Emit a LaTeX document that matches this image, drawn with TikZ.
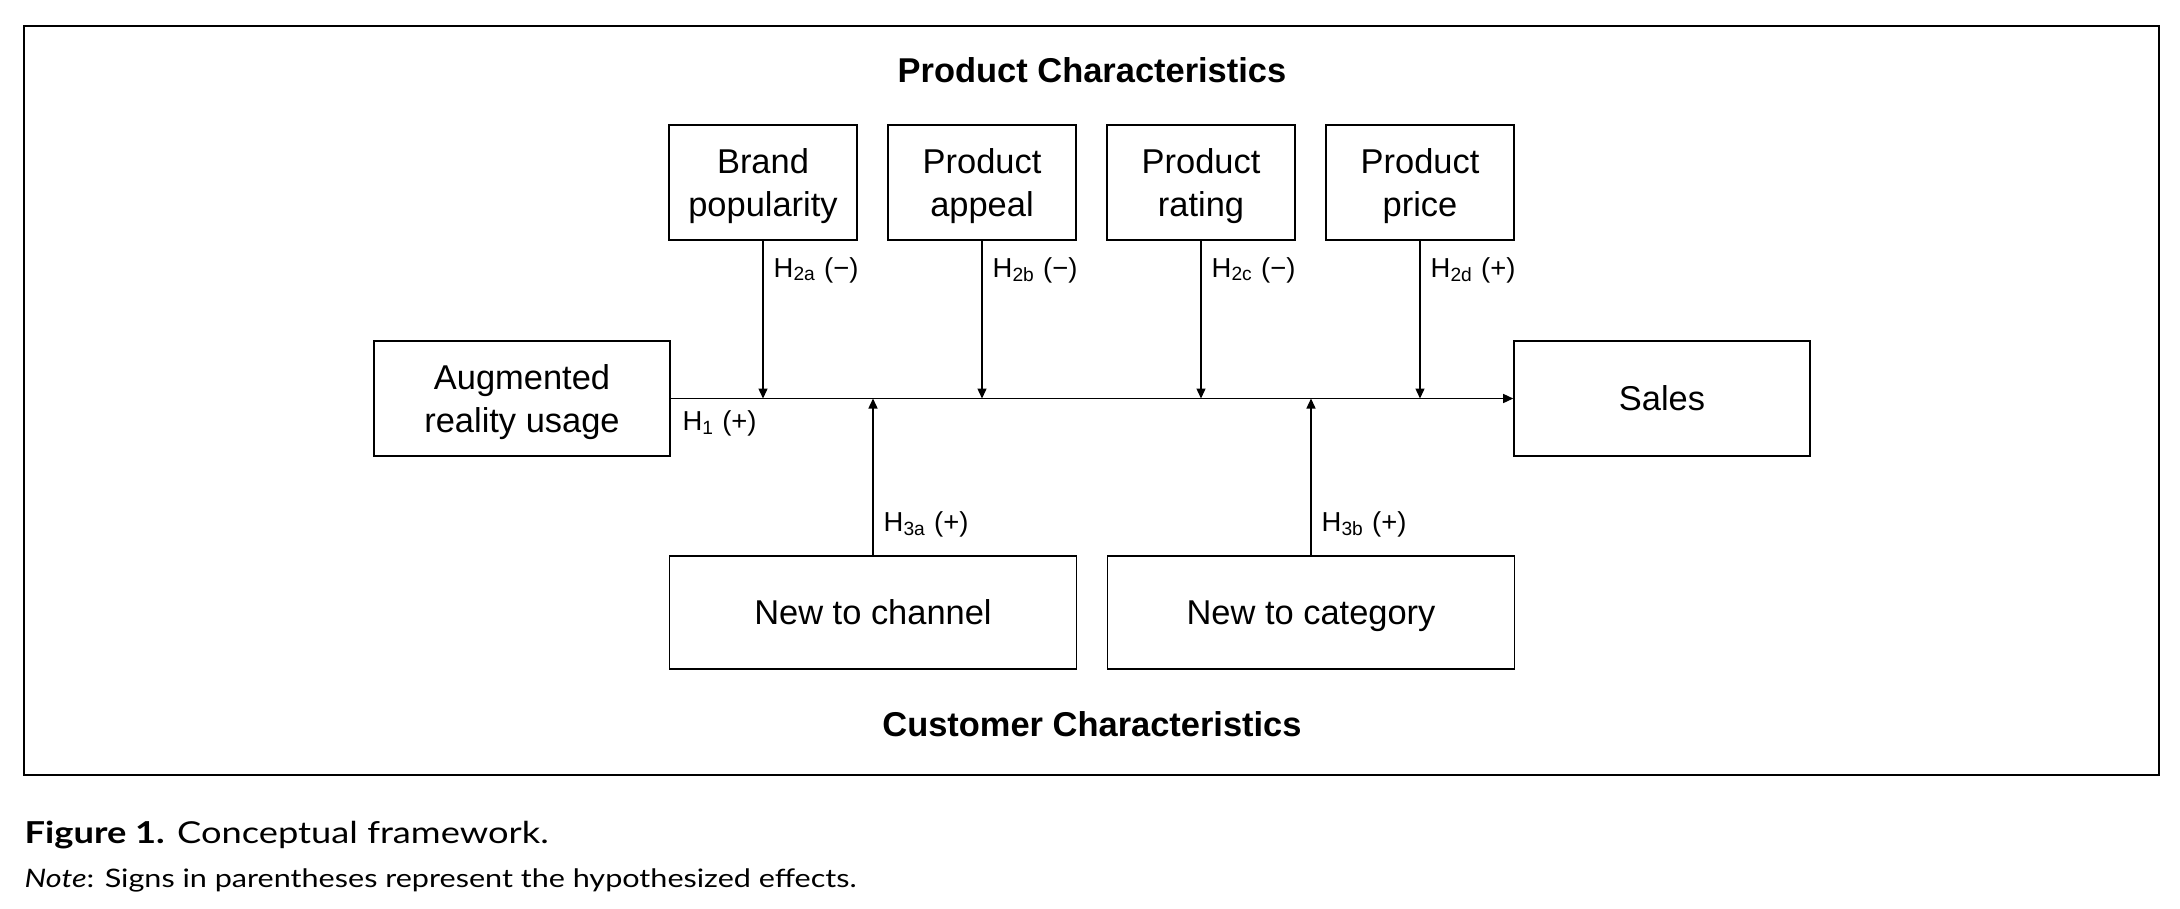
\documentclass[tikz,border=0pt]{standalone}
\usepackage{fontspec}
\setmainfont{Liberation Sans}
\newfontfamily\capfont[FakeStretch=1.2]{Lato}
\usetikzlibrary{arrows.meta}
\usetikzlibrary{calc}
\tikzset{
  every node/.style = {font = \fontsize{9.8pt}{12pt}\selectfont}
}
\tikzset{
    >={Triangle[length=1mm, width=0.9mm]}
}
\tikzset{
  box/.style = {draw, line width=0.45pt, align=center, inner sep=0pt, text depth=0pt, minimum height=11.5mm},
  smallbox/.style = {box, minimum width=18.8mm},
  widebox/.style = {box, minimum width=29.6mm},
  longbox/.style = {box, minimum width=40.7mm, minimum height=11.3mm},
  hyp/.style = {font=\fontsize{7.8pt}{9pt}\selectfont, anchor=base west, inner sep=0pt, xshift=1mm},
  heading/.style = {font=\fontsize{9.8pt}{12pt}\selectfont\bfseries, anchor=base, inner sep=0pt},
  caption/.style = {anchor=base west, inner sep=0pt}
}

\begin{document}
\begin{tikzpicture}[x=0.1mm, y=-0.1mm, line width=0.4pt]
\useasboundingbox (0,0) rectangle (2180,908);

% The frame
\draw[line width=0.55pt] (24,26) rectangle (2159,775);

% Headings
\node[heading] (prodhead) at (1092,82) {Product Characteristics};
\node[heading] (custhead) at (1092,736) {Customer Characteristics};

% Product characteristics
\node[smallbox] (brand) at (763,182.5) {Brand\\popularity};
\node[smallbox] (appeal) at (982,182.5) {Product\\appeal};
\node[smallbox] (rating) at (1201,182.5) {Product\\rating};
\node[smallbox] (price) at (1420,182.5) {Product\\price};

% Main effect
\node[widebox] (ar) at (522,398.5) {Augmented\\reality usage};
\node[widebox] (sales) at (1662,398.5) {Sales};

% Customer characteristics
\node[longbox] (channel) at (873,612.5) {New to channel};
\node[longbox] (category) at (1311,612.5) {New to category};

% Arrows
\draw[->] (ar) -- (sales) node[hyp, at start, xshift=0.1mm, yshift=-3.2mm] {H\textsubscript{1} (+)};
\foreach \n/\s/\g in {brand/2a/−, appeal/2b/−, rating/2c/−, price/2d/+}
  \draw[->] (\n) -- (\n |- ar.east) node[hyp, pos=0.23] {H\textsubscript{\s} (\g)};
\foreach \n/\s in {channel/3a, category/3b}
  \draw[->] (\n) -- (\n |- ar.east) node[hyp, pos=0.15] {H\textsubscript{\s} (+)};

% Caption
\node[caption, font=\capfont\fontsize{8.6pt}{11pt}\selectfont] (fig) at (24,843) {\textbf{Figure 1.} Conceptual framework.};
\node[caption, font=\capfont\fontsize{7.25pt}{10pt}\selectfont] (note) at (24,887) {\textit{Note}: Signs in parentheses represent the hypothesized effects.};
\end{tikzpicture}
\end{document}
